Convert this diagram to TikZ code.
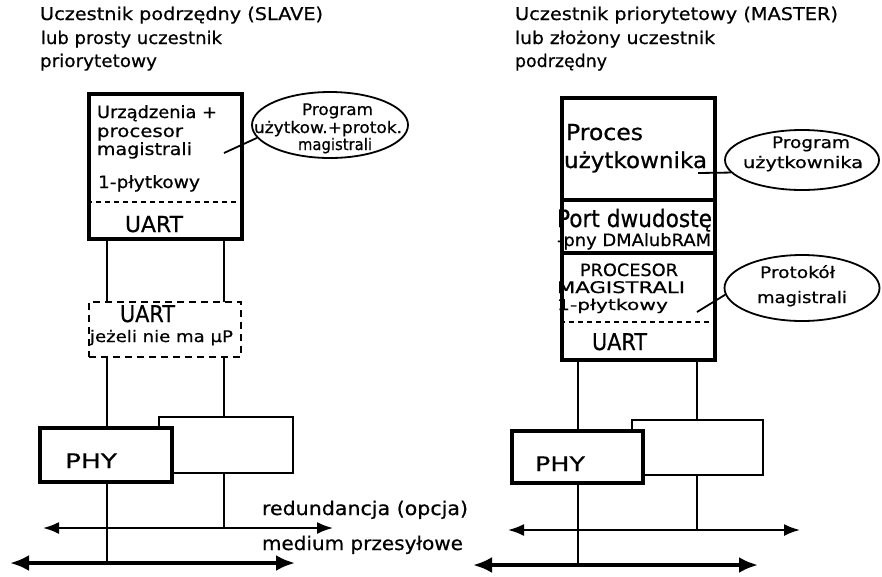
\documentclass[tikz,border=0pt]{standalone}
\usepackage{fontspec}
\setmainfont[FakeBold=0.6]{DejaVu Sans}
\usepackage{graphicx}
\usetikzlibrary{arrows.meta,shapes.geometric}
% set a text at a given size and stretch it to a given width
\newcommand\fs[1]{\fontsize{#1}{#1}\selectfont}
\newcommand\fitw[2]{\resizebox{#1pt}{\height}{#2}}

\begin{document}
\begin{tikzpicture}[x=1pt,y=-1pt,
  thickbox/.style={draw, rectangle, line width=3.6pt, fill=white, inner sep=0},
  thinbox/.style={draw, rectangle, line width=1.8pt, fill=white, inner sep=0},
  dashbox/.style={draw, rectangle, line width=1.8pt, dash pattern=on 7pt off 5pt, inner sep=0},
  bubble/.style={draw, ellipse, line width=1.8pt, inner sep=0},
  wire/.style={line width=1.8pt},
  sepline/.style={line width=1.6pt, dash pattern=on 5pt off 4pt},
  heavysep/.style={line width=3.4pt},
  lbl/.style={anchor=base west, inner sep=0, outer sep=0},
  bus/.style={line width=2pt, {Latex[length=16pt,width=12pt]}-{Latex[length=16pt,width=12pt]}},
  mainbus/.style={line width=3.6pt, {Latex[length=19pt,width=16pt]}-{Latex[length=19pt,width=16pt]}},
]
\fill[white] (0,0) rectangle (882,576);
\useasboundingbox (0,0) rectangle (882,576);

% ---------- column positions of the two wires ----------
\coordinate (sxa) at (107,0);
\coordinate (sxb) at (224,0);
\coordinate (mxa) at (578,0);
\coordinate (mxb) at (697,0);

% ---------- bus lines ----------
\coordinate (sbusL1) at (43,528);  \coordinate (sbusR1) at (333,528);
\coordinate (sbusL2) at (10,563);  \coordinate (sbusR2) at (295,563);
\coordinate (mbusL1) at (508,530); \coordinate (mbusR1) at (800,530);
\coordinate (mbusL2) at (473,565); \coordinate (mbusR2) at (758,565);

% ---------- headings ----------
\node[lbl] (sh1) at (40,20) {\fs{17.5}\fitw{283}{Uczestnik podrzędny (SLAVE)}};
\node[lbl] (sh2) at (41,44) {\fs{17.5}\fitw{181}{lub prosty uczestnik}};
\node[lbl] (sh3) at (40,67) {\fs{17.5}\fitw{117}{priorytetowy}};
\node[lbl] (mh1) at (515,20) {\fs{17.5}\fitw{323}{Uczestnik priorytetowy (MASTER)}};
\node[lbl] (mh2) at (515,44) {\fs{17.5}\fitw{200}{lub złożony uczestnik}};
\node[lbl] (mh3) at (515,67) {\fs{17.5}\fitw{92}{podrzędny}};

% ================= SLAVE =================
% wires
\draw[wire] (sxa |- 0,239) -- (sxa |- 0,302);
\draw[wire] (sxb |- 0,239) -- (sxb |- 0,302);
\draw[wire] (sxa |- 0,357) -- (sxa |- 0,428);
\draw[wire] (sxb |- 0,357) -- (sxb |- 0,417);
\draw[wire] (sxa |- 0,482) -- (sxa |- sbusL2);
\draw[wire] (sxb |- 0,473) -- (sxb |- sbusL1);

\node[thickbox, minimum width=153pt, minimum height=145pt] (sbox) at (165.5,166.5) {};
\coordinate (sdiv) at (0,202);
\draw[sepline] (sbox.west |- sdiv) -- (sbox.east |- sdiv);
\node[lbl] (st1) at (97,118) {\fs{17}\fitw{120}{Urządzenia +}};
\node[lbl] (st2) at (97,137) {\fs{17}\fitw{86}{procesor}};
\node[lbl] (st3) at (97,155) {\fs{17}\fitw{95}{magistrali}};
\node[lbl] (st4) at (98,188) {\fs{17}\fitw{102}{1-płytkowy}};
\node[lbl] (st5) at (125,232) {\fs{22}\fitw{58}{UART}};

\node[dashbox, minimum width=152pt, minimum height=55pt] (sudash) at (165,329.5) {};
\node[lbl] (su1) at (120,322) {\fs{23}\fitw{55}{UART}};
\node[lbl] (su2) at (90,342) {\fs{16}\fitw{143}{jeżeli nie ma µP}};

\node[thinbox, minimum width=134pt, minimum height=56pt] (sred) at (226,445) {};
\node[thickbox, minimum width=132pt, minimum height=54pt] (sphy) at (106,455) {};
\node[lbl] (sphyt) at (65,468) {\fs{20}\fitw{52}{PHY}};

\node[bubble, minimum width=156pt, minimum height=66pt] (sbub) at (330,125) {};
\node[lbl] (sb1) at (302,115) {\fs{16}\fitw{71}{Program}};
\node[lbl] (sb2) at (254,133) {\fs{16}\fitw{148}{użytkow.+protok.}};
\node[lbl] (sb3) at (298,150) {\fs{16}\fitw{74}{magistrali}};
\coordinate (sptr) at (224,153);
\draw[wire] (sbub.190) -- (sptr);

\draw[bus] (sbusL1) -- (sbusR1);
\draw[mainbus] (sbusL2) -- (sbusR2);

% ================= MASTER =================
\draw[wire] (mxa |- 0,360) -- (mxa |- 0,431);
\draw[wire] (mxb |- 0,360) -- (mxb |- 0,420);
\draw[wire] (mxa |- 0,483) -- (mxa |- mbusL2);
\draw[wire] (mxb |- 0,475) -- (mxb |- mbusL1);

\node[thickbox, minimum width=153pt, minimum height=262pt] (mbox) at (638.5,229) {};
\coordinate (mdiv1) at (0,200);
\coordinate (mdiv2) at (0,253);
\coordinate (mdiv3) at (0,322);
\draw[heavysep] (mbox.west |- mdiv1) -- (mbox.east |- mdiv1);
\draw[heavysep] (mbox.west |- mdiv2) -- (mbox.east |- mdiv2);
\draw[sepline] (mbox.west |- mdiv3) -- (mbox.east |- mdiv3);
\node[lbl] (mt1) at (566,140) {\fs{22}\fitw{77}{Proces}};
\node[lbl] (mt2) at (564,168) {\fs{22}\fitw{143}{użytkownika}};
\node[lbl] (mt3) at (557,227) {\fs{24}\fitw{155}{Port dwudostę}};
\node[lbl] (mt4) at (557,246) {\fs{17}\fitw{154}{-pny DMAlubRAM}};
\node[lbl] (mt5) at (580,276) {\fs{17}\fitw{98}{PROCESOR}};
\node[lbl] (mt6) at (557,293) {\fs{16}\fitw{128}{MAGISTRALI}};
\node[lbl] (mt7) at (557,310) {\fs{15}\fitw{111}{1-płytkowy}};
\node[lbl] (mt8) at (592,350) {\fs{23}\fitw{55}{UART}};

\node[thinbox, minimum width=131pt, minimum height=55pt] (mred) at (697.5,447.5) {};
\node[thickbox, minimum width=131pt, minimum height=52pt] (mphy) at (577.5,457) {};
\node[lbl] (mphyt) at (535,471) {\fs{20}\fitw{50}{PHY}};

\node[bubble, minimum width=154pt, minimum height=60pt] (mbub1) at (802,160) {};
\node[lbl] (mb1) at (772,148) {\fs{16}\fitw{78}{Program}};
\node[lbl] (mb2) at (743,168) {\fs{16}\fitw{120}{użytkownika}};
\coordinate (mptr1) at (698,173);
\draw[wire] (mbub1.190) -- (mptr1);

\node[bubble, minimum width=155pt, minimum height=66pt] (mbub2) at (802,288) {};
\node[lbl] (mb3) at (760,278) {\fs{16}\fitw{75}{Protokół}};
\node[lbl] (mb4) at (757,303) {\fs{16}\fitw{90}{magistrali}};
\coordinate (mptr2) at (697,312);
\draw[wire] (mbub2.185) -- (mptr2);

\draw[bus] (mbusL1) -- (mbusR1);
\draw[mainbus] (mbusL2) -- (mbusR2);

% ---------- bus labels ----------
\node[lbl] (red) at (262,515) {\fs{19}\fitw{206}{redundancja (opcja)}};
\node[lbl] (med) at (262,550) {\fs{19}\fitw{201}{medium przesyłowe}};
\end{tikzpicture}
\end{document}
